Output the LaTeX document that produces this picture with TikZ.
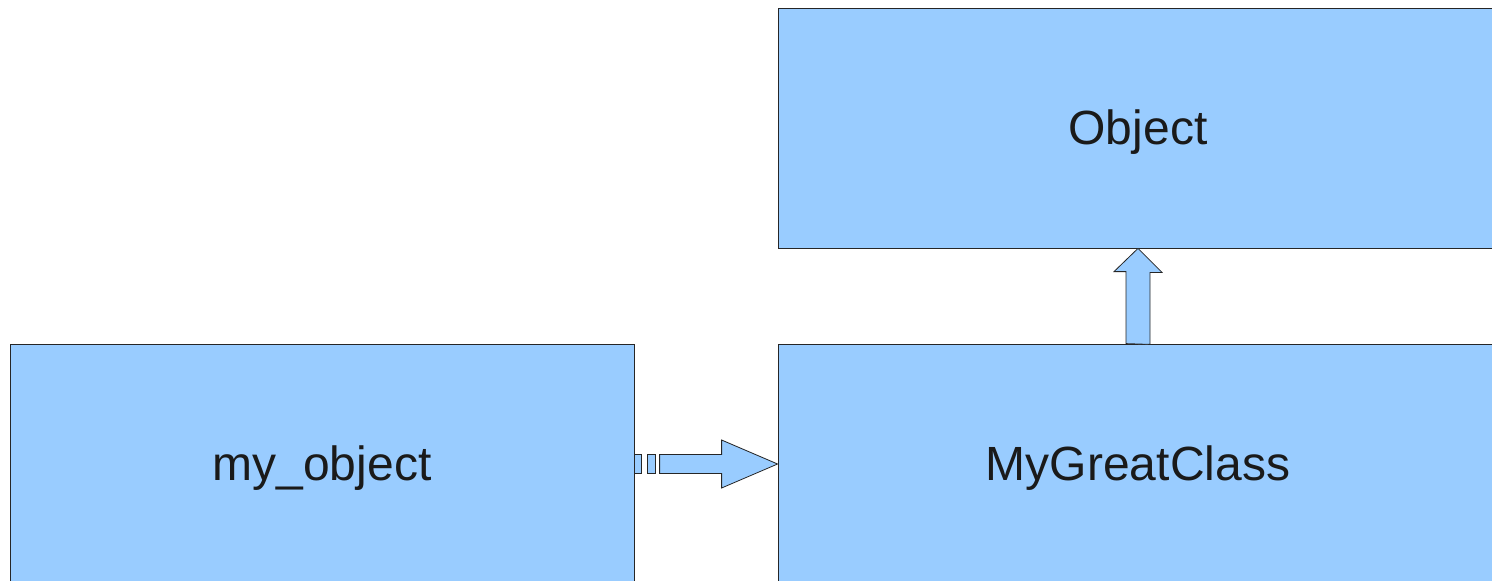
\documentclass[tikz,border=0pt]{standalone}
\usepackage{fontspec}
\setmainfont{Liberation Sans}
\definecolor{clsblue}{HTML}{99CCFF}
\definecolor{clstext}{HTML}{1A1A1A}
\tikzset{
  cls/.style={draw=black!85,fill=clsblue,line width=0.8pt,
    minimum width=720pt,minimum height=240pt,inner sep=0pt,
    text=clstext,text depth=1pt,
    font=\fontsize{48}{56}\selectfont},
  blk/.style={draw=black!85,fill=clsblue,line width=0.8pt}
}
\begin{document}
\begin{tikzpicture}[x=1pt,y=-1pt]
\useasboundingbox (0,0) rectangle (1492,581);
\clip (0,0) rectangle (1492,581);

\node[cls] (obj) at (1138,128) {Object};
\node[cls] (great) at (1138,464) {MyGreatClass};
\node[cls,minimum width=624pt] (my) at (322,464) {my\_object};

% inheritance
\draw[blk] (great.north) ++(-12,0) -- ++(0,-72) -- ++(-12,0) -- (obj.south)
  -- ++(24,24) -- ++(-12,0) -- ++(0,72) -- cycle;

% instance of
\draw[blk] (great.west) -- ++(-56,-24) -- ++(0,14.5) -- ++(-62,0) -- ++(0,19)
  -- ++(62,0) -- ++(0,14.5) -- cycle;
\foreach \x/\w in {0/7,13/8} {
\draw[blk] (my.east) ++(\x,-9.5) rectangle ++(\w,19);
};
\end{tikzpicture}
\end{document}
